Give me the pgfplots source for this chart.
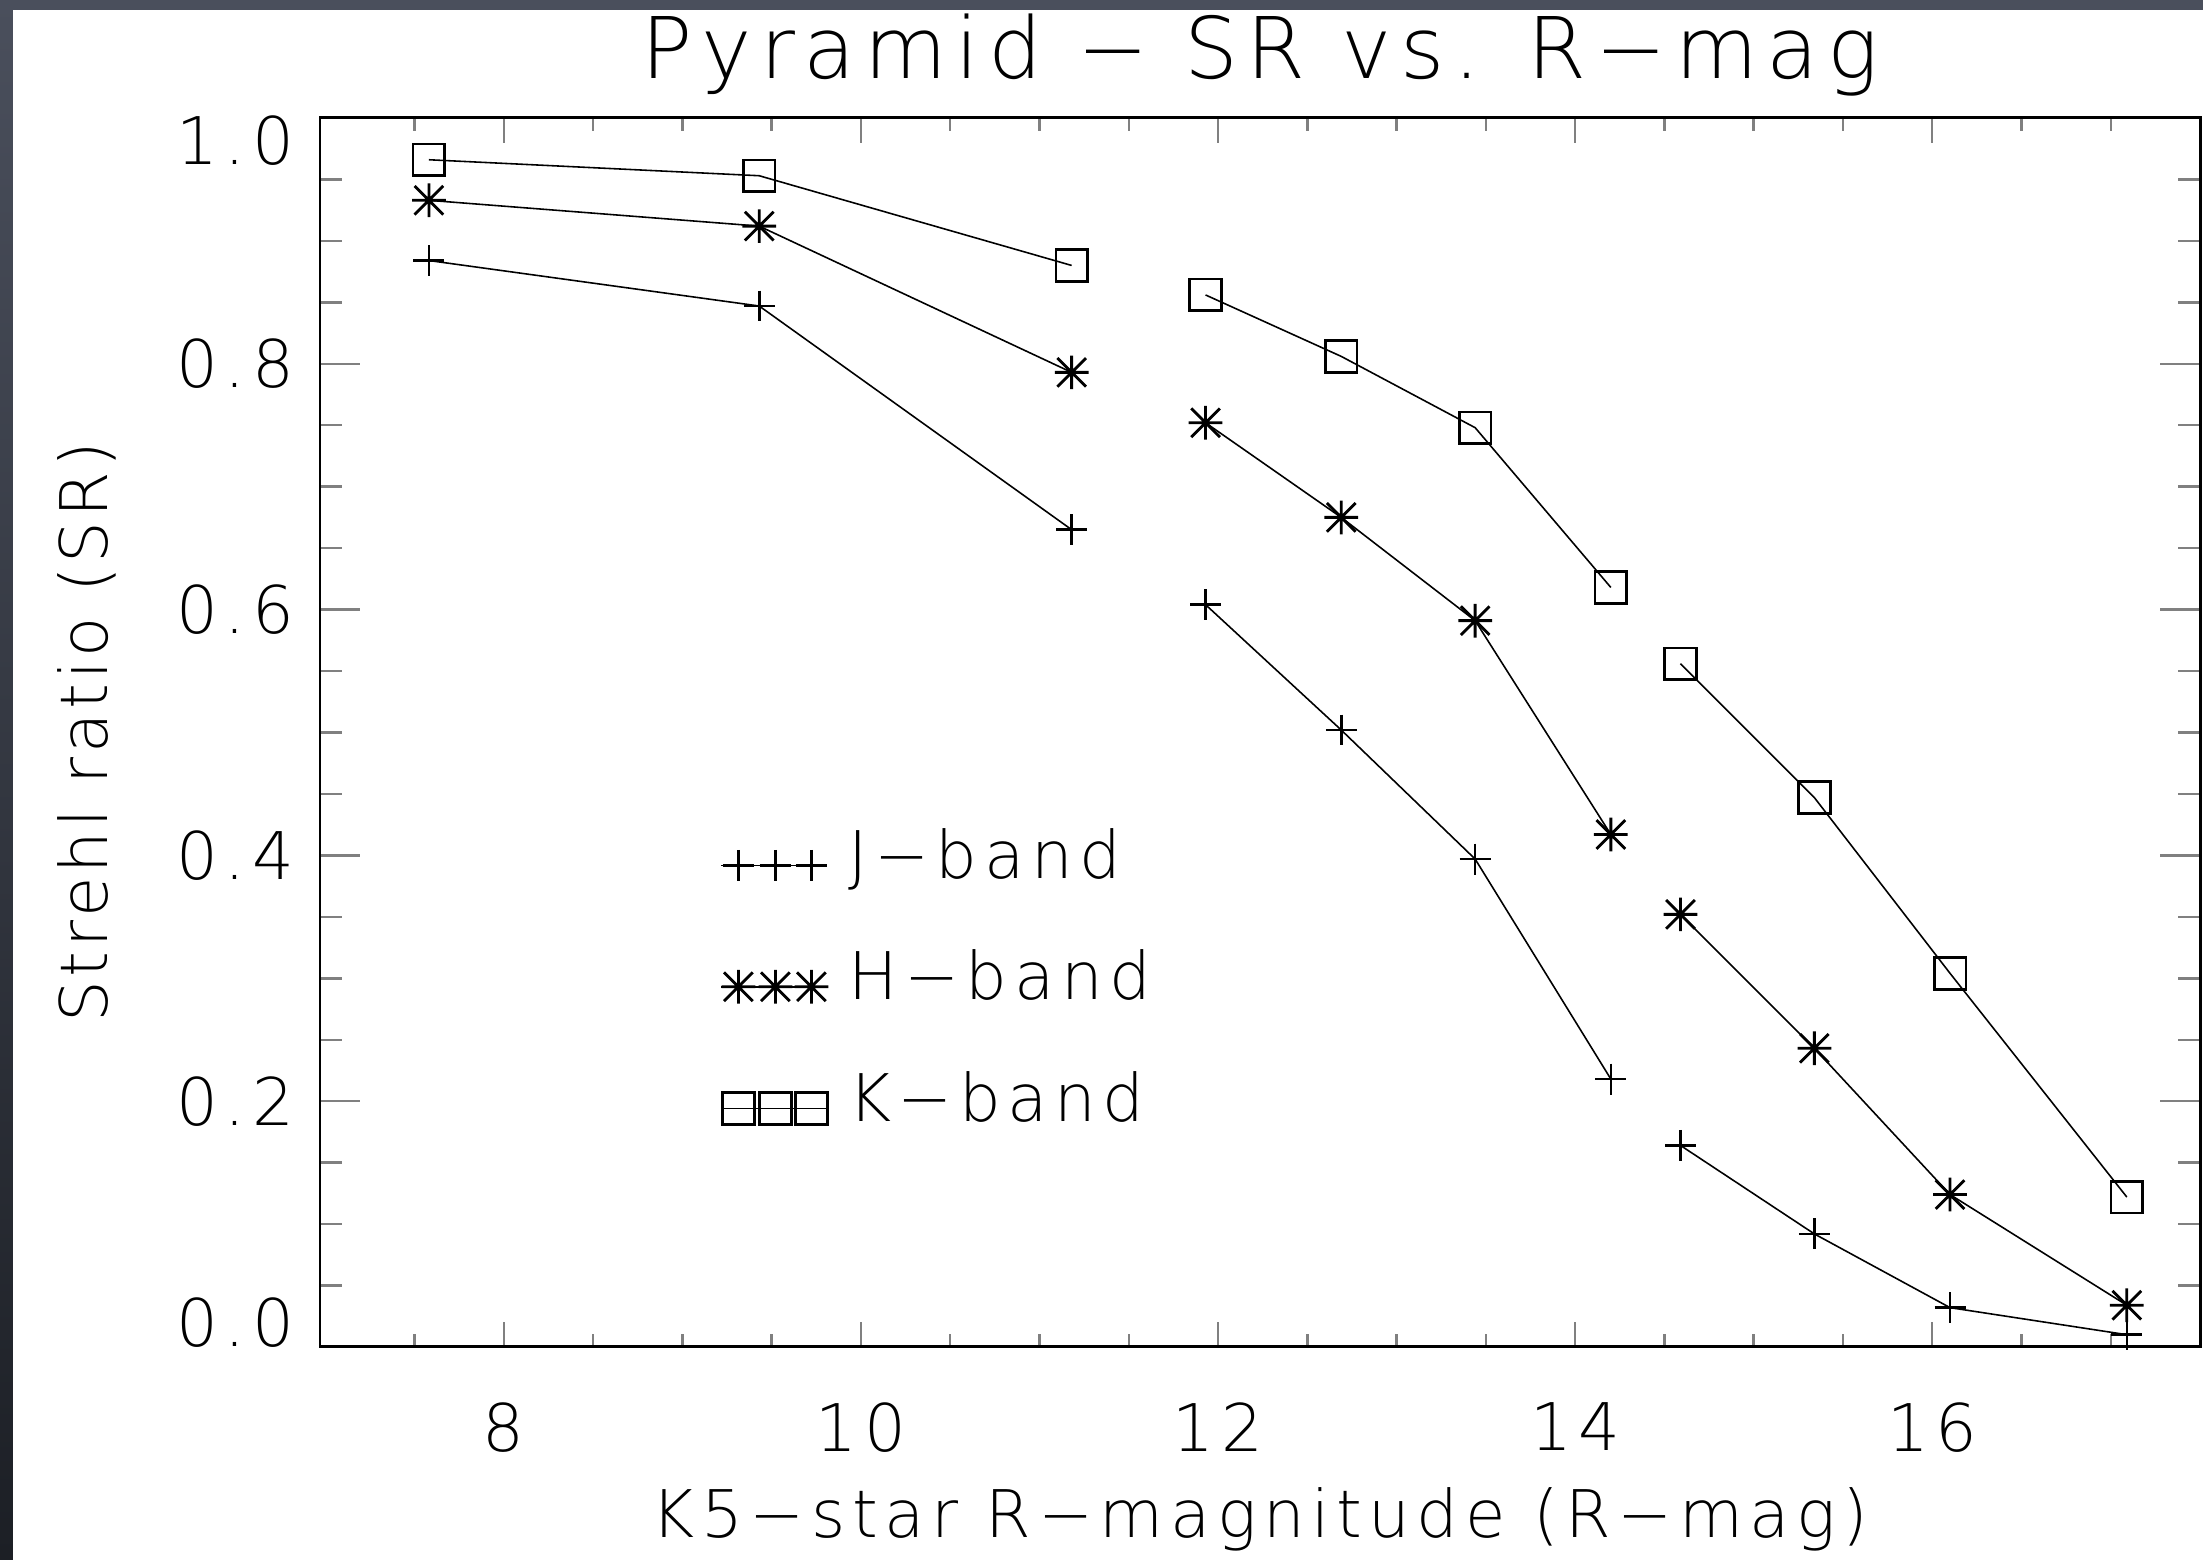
\documentclass[border=0pt]{standalone}
\usepackage{fontspec}
\setmainfont{DejaVu Sans ExtraLight}[LetterSpace=10]
\usepackage{pgfplots}
\pgfplotsset{compat=1.18}

\definecolor{frametop}{RGB}{74,79,92}
\definecolor{framebot}{RGB}{28,31,37}

% IDL style asterisk (psym=2): plus and cross together
\pgfdeclareplotmark{idlstar}{%
  \pgfpathmoveto{\pgfqpoint{0pt}{\pgfplotmarksize}}%
  \pgfpathlineto{\pgfqpoint{0pt}{-\pgfplotmarksize}}%
  \pgfpathmoveto{\pgfqpoint{\pgfplotmarksize}{0pt}}%
  \pgfpathlineto{\pgfqpoint{-\pgfplotmarksize}{0pt}}%
  \pgfpathmoveto{\pgfqpoint{.85\pgfplotmarksize}{.85\pgfplotmarksize}}%
  \pgfpathlineto{\pgfqpoint{-.85\pgfplotmarksize}{-.85\pgfplotmarksize}}%
  \pgfpathmoveto{\pgfqpoint{-.85\pgfplotmarksize}{.85\pgfplotmarksize}}%
  \pgfpathlineto{\pgfqpoint{.85\pgfplotmarksize}{-.85\pgfplotmarksize}}%
  \pgfusepathqstroke
}

\newcommand{\lbl}{\fontsize{18.7}{22}\selectfont}

\begin{document}
\begin{tikzpicture}
% frame of the slide
\shade[top color=frametop, bottom color=framebot] (-3.20,-2.13) rectangle (18.83,13.47);
\fill[white] (-3.07,-2.13) rectangle (18.83,13.37);

\begin{axis}[
    at={(0,0)}, anchor=south west,
    scale only axis,
    width=18.80cm, height=12.29cm,
    xmin=6.97, xmax=17.5,
    ymin=0, ymax=1,
    axis line style={line width=0.85pt},
    tick align=inside,
    xtick={8,10,12,14,16},
    xticklabels={8,10,12,14,16},
    minor xtick={7.5,8,...,17.5},
    ytick={0,0.2,0.4,0.6,0.8,1},
    yticklabels={\raisebox{0.24cm}[\height][\depth]{0.0},0.2,0.4,0.6,0.8,\raisebox{-0.23cm}[\height][\depth]{1.0}},
    minor ytick={0,0.05,...,1},
    xtick style={line width=0.7pt, /pgfplots/major tick length=0.25cm, /pgfplots/minor tick length=0.13cm},
    ytick style={line width=0.7pt, /pgfplots/major tick length=0.40cm, /pgfplots/minor tick length=0.22cm},
    tick label style={font=\lbl},
    xticklabel style={inner sep=0pt, anchor=north, yshift=-0.55cm},
    yticklabel style={inner sep=0pt, anchor=east, xshift=-0.25cm},
    title={Pyramid − SR vs. R−mag},
    title style={font=\fontsize{24.2}{28}\selectfont, inner sep=0pt,
                 at={(axis description cs:0.5,1.0325)}, anchor=base, yshift=-6pt},
    xlabel={K5−star R−magnitude (R−mag)},
    xlabel style={font=\lbl, inner sep=0pt,
                  at={(axis description cs:0.5,-0.1554)}, anchor=base},
    ylabel={\addfontfeatures{LetterSpace=6}Strehl ratio (SR)},
    ylabel style={font=\lbl, inner sep=0pt,
                  at={(axis description cs:-0.1128,0.5)}, anchor=base},
    unbounded coords=jump,
    legend style={at={(axis cs:9.21,0.405)}, anchor=north west,
                  draw=none, fill=none, inner sep=0pt,
                  row sep=0.89cm, column sep=0.2cm, font=\lbl,
                  nodes={inner sep=0pt, text height=0.76em, text depth=0pt},
                  cells={anchor=base west}},
    legend image code/.code={
        \draw[#1, mark indices={2,3,4}] plot coordinates
            {(0cm,0.13cm) (0.17cm,0.13cm) (0.54cm,0.13cm) (0.90cm,0.13cm) (1.05cm,0.13cm)};
    },
]

% J-band
\addplot[black, line width=0.45pt, mark=+, mark size=4.4pt, mark options={line width=0.75pt}] coordinates {
    (7.58,0.884) (9.43,0.847) (11.18,0.665)
    (11.5,nan)
    (11.93,0.604) (12.69,0.502) (13.44,0.397) (14.20,0.218)
    (14.4,nan)
    (14.59,0.164) (15.34,0.092) (16.10,0.032) (17.09,0.010)
};
\addlegendentry{J−band}

% H-band
\addplot[black, line width=0.45pt, mark=idlstar, mark size=4.8pt, mark options={line width=0.8pt}] coordinates {
    (7.58,0.933) (9.43,0.912) (11.18,0.793)
    (11.5,nan)
    (11.93,0.752) (12.69,0.675) (13.44,0.591) (14.20,0.417)
    (14.4,nan)
    (14.59,0.352) (15.34,0.243) (16.10,0.124) (17.09,0.034)
};
\addlegendentry{H−band}

% K-band
\addplot[black, line width=0.45pt, mark=square, mark size=4.5pt, mark options={line width=0.75pt}] coordinates {
    (7.58,0.966) (9.43,0.953) (11.18,0.880)
    (11.5,nan)
    (11.93,0.856) (12.69,0.806) (13.44,0.748) (14.20,0.618)
    (14.4,nan)
    (14.59,0.556) (15.34,0.447) (16.10,0.304) (17.09,0.122)
};
\addlegendentry{K−band}

\end{axis}
\pgfresetboundingbox
\path[use as bounding box] (-3.20,-2.13) rectangle (18.83,13.47);
\end{tikzpicture}
\end{document}
